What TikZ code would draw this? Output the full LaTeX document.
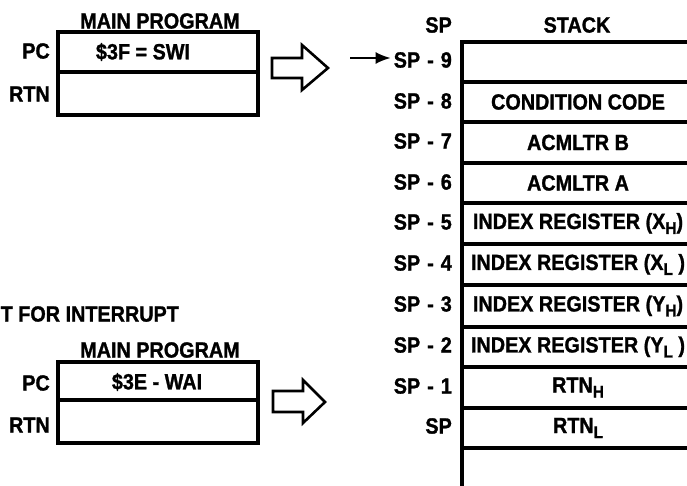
\documentclass[tikz,border=0pt]{standalone}
\usepackage{fontspec}
\setmainfont{Liberation Sans}[FakeStretch=0.9, BoldFeatures={FakeBold=1.2}]
\usetikzlibrary{arrows.meta}
\newcommand\fsz{\fontsize{22}{24}\selectfont}
\newcommand\sbs[1]{\raisebox{-5pt}{\fontsize{17}{17}\selectfont #1}}
\newcommand\spm[1]{SP\hspace{7pt}-\hspace{7pt}#1}
\tikzset{
  lbl/.style={font=\fsz\bfseries, inner sep=0pt},
  cell/.style={draw, line width=3.2pt, minimum width=200pt, inner sep=0pt, outer sep=0pt},
  srow/.style={draw, line width=3.2pt, minimum width=232pt, inner sep=0pt, outer sep=0pt, font=\fsz\bfseries},
  blockarrow/.style={draw, line width=2.6pt, line join=miter, fill=white},
}
\begin{document}
\begin{tikzpicture}[x=1pt,y=-1pt]
\useasboundingbox (0,0) rectangle (687,485);
\clip (0,0) rectangle (687,485);
\fill[white] (0,0) rectangle (687,485);

% ---- top program box (SWI)
\node[lbl] (mp1) at (160,21) {MAIN PROGRAM};
\node[cell, minimum height=40pt] (pc1) at (158,52) {};
\node[cell, minimum height=43pt] (rtn1) at (158,93.5) {};
\node[lbl] (swi) at (143,52) {\$3F = SWI};
\node[lbl, anchor=east] (pclbl1) at (50,51) {PC};
\node[lbl, anchor=east] (rtnlbl1) at (50,94) {RTN};
\draw[blockarrow] (272,58) -- (302,58) -- (302,45) -- (328,68) -- (302,90) -- (302,78) -- (272,78) -- cycle;

% ---- bottom program box (WAI)
\node[lbl, anchor=west] (wfi) at (0.5,314) {T FOR INTERRUPT};
\node[lbl] (mp2) at (160,350) {MAIN PROGRAM};
\node[cell, minimum height=38pt] (pc2) at (158,381) {};
\node[cell, minimum height=43pt] (rtn2) at (158,421.5) {};
\node[lbl] (wai) at (157,382) {\$3E - WAI};
\node[lbl, anchor=east] (pclbl2) at (50,383) {PC};
\node[lbl, anchor=east] (rtnlbl2) at (50,425) {RTN};
\draw[blockarrow] (273,391) -- (303,391) -- (303,380) -- (325,402) -- (303,423) -- (303,412) -- (273,412) -- cycle;

% ---- stack
\node[lbl, anchor=east] (sphead) at (452,25) {SP};
\node[lbl] (stackhead) at (577,25) {STACK};

\node[srow, minimum height=40pt]   (r9) at (578,62)    {};
\node[srow, minimum height=40pt]   (r8) at (578,102)   {CONDITION CODE};
\node[srow, minimum height=41pt]   (r7) at (578,142.5) {ACMLTR B};
\node[srow, minimum height=40pt]   (r6) at (578,183)   {ACMLTR A};
\node[srow, minimum height=41pt]   (r5) at (578,223.5) {INDEX REGISTER (X\sbs{H})};
\node[srow, minimum height=41pt]   (r4) at (578,264.5) {INDEX REGISTER (X\sbs{L} )};
\node[srow, minimum height=42pt]   (r3) at (578,306)   {INDEX REGISTER (Y\sbs{H})};
\node[srow, minimum height=40pt]   (r2) at (578,347)   {INDEX REGISTER (Y\sbs{L} )};
\node[srow, minimum height=41pt]   (r1) at (578,387.5) {RTN\sbs{H}};
\node[srow, minimum height=40pt]   (r0) at (578,428)   {RTN\sbs{L}};
\coordinate (stackend) at (462,490);
\draw[line width=3.2pt] (r0.south west) -- (stackend);

\node[lbl, anchor=east] (sp9) at (452,60)  {\spm{9}};
\node[lbl, anchor=east] (sp8) at (452,101) {\spm{8}};
\node[lbl, anchor=east] (sp7) at (452,141) {\spm{7}};
\node[lbl, anchor=east] (sp6) at (452,182) {\spm{6}};
\node[lbl, anchor=east] (sp5) at (452,222) {\spm{5}};
\node[lbl, anchor=east] (sp4) at (452,263) {\spm{4}};
\node[lbl, anchor=east] (sp3) at (452,304) {\spm{3}};
\node[lbl, anchor=east] (sp2) at (452,345) {\spm{2}};
\node[lbl, anchor=east] (sp1) at (452,386) {\spm{1}};
\node[lbl, anchor=east] (sp0) at (452,426) {SP};

\coordinate (ptr) at (350,58);
\draw[line width=1.8pt, -{Latex[length=15pt,width=12pt]}, shorten >=3pt] (ptr) -- (ptr -| sp9.west);
\end{tikzpicture}
\end{document}
